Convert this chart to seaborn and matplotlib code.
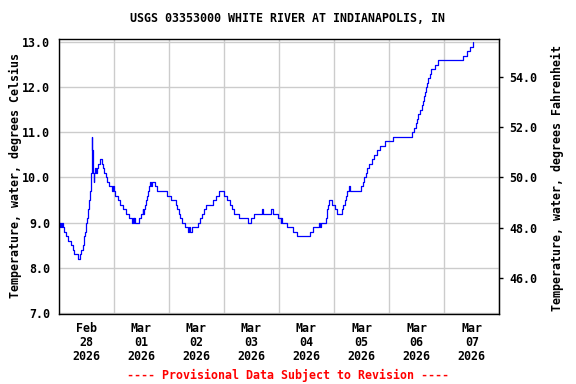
import matplotlib
matplotlib.use('Agg')
import matplotlib.pyplot as plt
import matplotlib.dates as mdates
import matplotlib.ticker as mticker
import seaborn as sns
import pandas as pd

sns.set_style("white")
plt.rcParams['font.family'] = ['DejaVu Sans Mono']
plt.rcParams['font.weight'] = 'bold'
plt.rcParams['font.size'] = 8.4
plt.rcParams['text.color'] = 'black'
plt.rcParams['xtick.color'] = 'black'
plt.rcParams['ytick.color'] = 'black'

# data: hours since 2026-02-28 00:00, water temp (deg C)
start = pd.Timestamp('2026-02-28 00:00')
hours = [0.0, 0.5, 0.8, 1.3, 1.5, 2.0, 2.4, 3.4, 4.3, 5.3, 6.3, 6.9, 8.3, 9.3,
         10.0, 10.5, 11.0, 11.3, 11.5, 11.8, 12.1, 12.4, 12.7, 12.9, 13.2, 13.6,
         14.0, 14.4, 14.6, 15.0, 15.3, 15.6, 15.9, 16.4, 16.7, 17.3, 18.2, 18.8,
         19.4, 19.9, 20.6, 21.3, 22.2, 23.4, 23.7, 24.0, 24.8, 26.0, 26.9, 28.0,
         29.2, 30.9, 32.1, 32.4, 32.7, 33.0, 33.3, 34.9, 36.0, 36.6, 36.9, 37.2,
         37.8, 38.3, 38.7, 39.2, 39.5, 39.9, 40.3, 40.6, 42.1, 43.0, 47.3, 49.1,
         51.1, 51.7, 52.3, 53.1, 53.7, 55.2, 56.6, 57.0, 57.3, 58.0, 60.7, 61.8,
         62.7, 63.3, 64.2, 67.4, 68.5, 69.7, 72.0, 73.5, 74.6, 75.5, 76.5, 78.8,
         82.7, 83.8, 85.2, 88.7, 88.9, 92.5, 93.6, 95.8, 96.8, 97.0, 97.3, 99.7,
         102.0, 103.8, 109.5, 111.0, 113.6, 114.0, 114.3, 116.5, 116.8, 117.1,
         117.4, 117.7, 119.1, 120.3, 121.2, 123.4, 124.1, 124.8, 125.2, 125.8,
         126.5, 127.0, 131.8, 132.5, 132.9, 133.8, 134.4, 135.2, 136.4, 137.6,
         138.6, 139.9, 142.2, 145.8, 154.1, 155.0, 155.6, 156.1, 156.7, 157.6,
         158.2, 158.7, 159.2, 159.5, 159.9, 160.5, 161.1, 161.8, 162.4, 164.0,
         165.4, 176.3, 178.0, 179.2, 180.4, 180.6]
temp_c = [9.0, 8.9, 9.0, 8.9, 9.0, 8.9, 8.8, 8.7, 8.6, 8.5, 8.4, 8.3, 8.2, 8.3,
          8.4, 8.5, 8.6, 8.7, 8.8, 8.9, 9.0, 9.1, 9.2, 9.3, 9.5, 9.7,
          10.1, 10.9, 10.6, 10.1, 9.9, 10.1, 10.2, 10.1, 10.2, 10.3, 10.4, 10.3,
          10.2, 10.1, 10.0, 9.9, 9.8, 9.7, 9.8, 9.7, 9.6, 9.5, 9.4, 9.3,
          9.2, 9.1, 9.0, 9.1, 9.0, 9.1, 9.0, 9.1, 9.2, 9.3, 9.2, 9.3,
          9.4, 9.5, 9.6, 9.7, 9.8, 9.9, 9.8, 9.9, 9.8, 9.7, 9.6, 9.5,
          9.4, 9.3, 9.2, 9.1, 9.0, 8.9, 8.8, 8.9, 8.8, 8.9, 9.0, 9.1,
          9.2, 9.3, 9.4, 9.5, 9.6, 9.7, 9.6, 9.5, 9.4, 9.3, 9.2, 9.1,
          9.0, 9.1, 9.2, 9.3, 9.2, 9.3, 9.2, 9.1, 9.0, 9.1, 9.0, 8.9,
          8.8, 8.7, 8.8, 8.9, 9.0, 8.9, 9.0, 9.1, 9.2, 9.3,
          9.4, 9.5, 9.4, 9.3, 9.2, 9.3, 9.4, 9.5, 9.6, 9.7,
          9.8, 9.7, 9.8, 9.9, 10.0, 10.1, 10.2, 10.3, 10.4, 10.5,
          10.6, 10.7, 10.8, 10.9, 11.0, 11.1, 11.2, 11.3, 11.4, 11.5,
          11.6, 11.7, 11.8, 11.9, 12.0, 12.1, 12.2, 12.3, 12.4, 12.5,
          12.6, 12.7, 12.8, 12.9, 13.0, 13.0]

day_labels = ['Feb\n28\n2026', 'Mar\n01\n2026', 'Mar\n02\n2026', 'Mar\n03\n2026',
              'Mar\n04\n2026', 'Mar\n05\n2026', 'Mar\n06\n2026', 'Mar\n07\n2026']
c_ticks = [7, 8, 9, 10, 11, 12, 13]
f_ticks = [46, 48, 50, 52, 54]

df = pd.DataFrame({'time': start + pd.to_timedelta(hours, unit='h'), 'temp': temp_c})

fig = plt.figure(figsize=(5.76, 3.84), dpi=100)
ax = fig.add_axes([58.5 / 576, 1 - 314 / 384, 440.8 / 576, 274.7 / 384])

sns.lineplot(data=df, x='time', y='temp', ax=ax, color='#0000ff', linewidth=0.9,
             drawstyle='steps-post', estimator=None)

midnights = pd.date_range('2026-02-28', '2026-03-08', freq='D')
noons = midnights[:-1] + pd.Timedelta(hours=12)
ax.set_xlim(mdates.date2num(midnights[0].to_pydatetime()),
            mdates.date2num(midnights[-1].to_pydatetime()))
ax.set_xticks(mdates.date2num(midnights.to_pydatetime()))
ax.set_xticklabels([])
ax.set_xticks(mdates.date2num(noons.to_pydatetime()), minor=True)
ax.set_xticklabels(day_labels, minor=True, linespacing=1.1)
ax.tick_params(axis='x', which='both', length=0, bottom=False)
ax.tick_params(axis='x', which='minor', pad=6)

ax.set_ylim(6.97, 13.067)
ax.set_yticks(c_ticks)
ax.yaxis.set_major_formatter(mticker.FormatStrFormatter('%.1f'))
ax.tick_params(axis='y', length=0, pad=6)

ax.grid(True, which='major', color='#cccccc', linewidth=1.0)
ax.set_xlabel('')
ax.set_ylabel('')
for s in ax.spines.values():
    s.set_color('black')
    s.set_linewidth(1.0)

sec = ax.secondary_yaxis('right', functions=(lambda c: c * 1.8 + 32, lambda f: (f - 32) / 1.8))
sec.set_yticks(f_ticks)
sec.yaxis.set_major_formatter(mticker.FormatStrFormatter('%.1f'))
sec.tick_params(axis='y', right=True, length=3, width=1, direction='out', pad=4, colors='black')
sec.spines['right'].set_color('black')

fig.text(0.5, 1 - 19 / 384, 'USGS 03353000 WHITE RIVER AT INDIANAPOLIS, IN',
         ha='center', va='center')
fig.text(15 / 576, 1 - 176 / 384, 'Temperature, water, degrees Celsius',
         rotation=90, ha='center', va='center')
fig.text(557 / 576, 1 - 178 / 384, 'Temperature, water, degrees Fahrenheit',
         rotation=90, ha='center', va='center')
fig.text(0.5, 1 - 375 / 384, '---- Provisional Data Subject to Revision ----',
         color='red', ha='center', va='center')

fig.savefig('out.png', dpi=100, facecolor='white')
